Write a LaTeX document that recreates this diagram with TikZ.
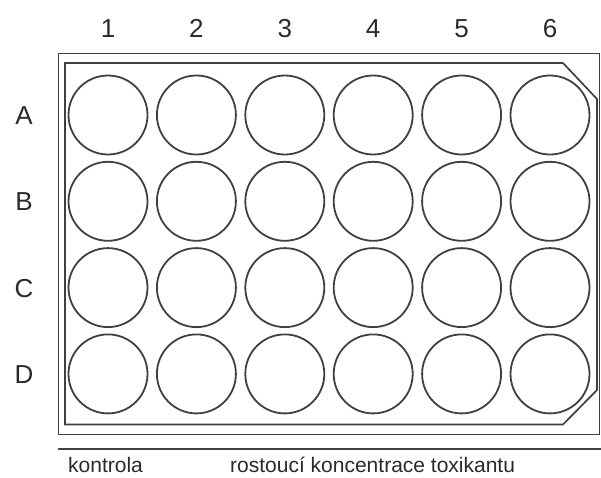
\documentclass[tikz,border=0pt]{standalone}
\usepackage{fontspec}
\setmainfont{Liberation Sans}
\definecolor{linegray}{HTML}{404040}
\definecolor{textgray}{HTML}{2A2A2A}

\begin{document}
\begin{tikzpicture}[x=1pt,y=-1pt]
    % Stili per pozzetti, bordi ed etichette
    \tikzset{
        well/.style={
            circle,
            draw=linegray,
            line width=1.8pt,
            minimum size=79pt,
            inner sep=0pt,
            outer sep=0pt
        },
        edge/.style={draw=linegray, line width=1.7pt},
        axislabel/.style={text=textgray, font=\fontsize{26}{26}\selectfont, inner sep=0pt, anchor=base},
        notelabel/.style={text=textgray, font=\fontsize{21}{21}\selectfont, inner sep=0pt, anchor=base west}
    }
    \useasboundingbox (0,0) rectangle (601,477);

    % --- Piastra: bordo esterno e bordo interno smussato ---
    \draw[edge] (58.5,53.5) rectangle (599.5,434.5);
    \draw[edge] (65,63) -- (563,63) -- (597,99) -- (597,390) -- (563,424.5) -- (65,424.5) -- cycle;

    % --- Pozzetti 4 x 6 con le lettere delle righe ---
    \foreach \r [count=\i from 0] in {A,B,C,D} {
        \foreach \c in {1,...,6} {
            \node[well] (\r\c) at ({108+88.4*(\c-1)}, {115+86.3*\i}) {};
        }
        \node[axislabel] (row\r) at (24, {124.5+86.3*\i}) {\r};
    }

    % Numeri delle colonne
    \coordinate (top) at (0,37);
    \foreach \c in {1,...,6} {
        \node[axislabel] (col\c) at (A\c |- top) {\c};
    }

    % --- Linea inferiore e didascalie ---
    \draw[edge] (58,449) -- (601,449);
    \node[notelabel] (control) at (68,472) {kontrola};
    \node[notelabel] (trend) at (230,472) {rostoucí koncentrace toxikantu};
\end{tikzpicture}
\end{document}
